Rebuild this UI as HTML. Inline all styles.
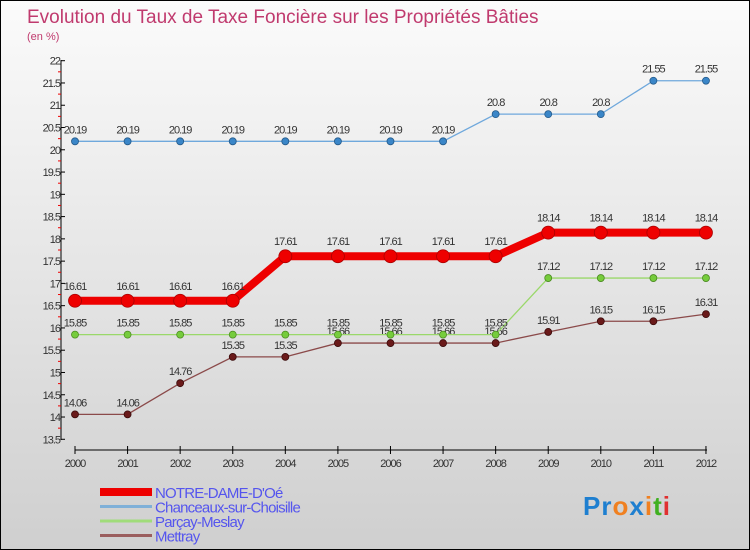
<!DOCTYPE html>
<html><head><meta charset="utf-8"><style>
body{margin:0;width:750px;height:550px;overflow:hidden;font-family:"Liberation Sans",sans-serif}
#wrap{position:absolute;left:0;top:0;width:748px;height:548px;border:1px solid #000;background:linear-gradient(#fbfbfb,#cfcfcf)}
</style></head><body>
<div id="wrap">
<svg id="chart" width="750" height="550" style="position:absolute;left:-1px;top:-1px"></svg>
</div>
<script>
const years=["2000","2001","2002","2003","2004","2005","2006","2007","2008","2009","2010","2011","2012"];
const notre=[16.61,16.61,16.61,16.61,17.61,17.61,17.61,17.61,17.61,18.14,18.14,18.14,18.14];
const chanceaux=[20.19,20.19,20.19,20.19,20.19,20.19,20.19,20.19,20.8,20.8,20.8,21.55,21.55];
const parcay=[15.85,15.85,15.85,15.85,15.85,15.85,15.85,15.85,15.85,17.12,17.12,17.12,17.12];
const mettray=[14.06,14.06,14.76,15.35,15.35,15.66,15.66,15.66,15.66,15.91,16.15,16.15,16.31];
const yTicks=["13.5","14","14.5","15","15.5","16","16.5","17","17.5","18","18.5","19","19.5","20","20.5","21","21.5","22"];
const svg=document.getElementById('chart');
const NS="http://www.w3.org/2000/svg";
function X(i){return 75+i*52.58;}
function Y(v){return 60.7+(22-v)*44.54;}
function mk(t,a,p){const e=document.createElementNS(NS,t);for(const k in a)e.setAttribute(k,a[k]);(p||svg).appendChild(e);return e;}
function txt(s,a){const e=mk('text',a);e.textContent=s;return e;}
let t=txt("Evolution du Taux de Taxe Foncière sur les Propriétés Bâties",{x:27,y:23,'font-size':19,fill:'#c03a6e'});

t=txt("(en %)",{x:27,y:40,'font-size':11,fill:'#c03a6e'});

let ax=mk('line',{x1:61,y1:60,x2:61,y2:440,stroke:'#000'});

yTicks.forEach(s=>{const v=parseFloat(s);const y=Y(v);
 mk('line',{x1:61,y1:y,x2:65,y2:y,stroke:'#000'});
 mk('line',{x1:58,y1:Y(v+0.25),x2:61,y2:Y(v+0.25),stroke:v<22?'#e00':'none'});
 const l=txt(s,{x:60,y:y+4,'font-size':11,fill:'#333','text-anchor':'end','letter-spacing':'-1'});
 });
ax=mk('line',{x1:75,y1:450,x2:707,y2:450,stroke:'#000'});

years.forEach((s,i)=>{mk('line',{x1:X(i),y1:446,x2:X(i),y2:454,stroke:'#000'});
 const l=txt(s,{x:X(i),y:467,'font-size':11,fill:'#333','text-anchor':'middle','letter-spacing':'-1'});
 });
function series(data,color,w,r,name,dot,stroke){
 const g=mk('g',{});
 mk('polyline',{points:data.map((v,i)=>X(i)+','+Y(v)).join(' '),fill:'none',stroke:color,'stroke-width':w,'stroke-linejoin':'miter'},g);
 data.forEach((v,i)=>{const c=mk('circle',{cx:X(i),cy:Y(v),r:r,fill:dot,stroke:stroke,'stroke-width':0.8},g);
  
  const l=txt(String(v),{x:X(i),y:Y(v)-8-(r>4?3:0),'font-size':11,fill:'#333','text-anchor':'middle','letter-spacing':'-1'});
  });}
series(chanceaux,'#6fa8dc',1.3,3.5,'chanceaux-series','#3a86c8','#245a8a');
series(mettray,'#8b4a4a',1.3,3.5,'mettray-series','#6a1a1a','#3a0a0a');
series(parcay,'#9ad86a',1.3,3.5,'parcay-series','#76cc3c','#4a8a20');
series(notre,'#ee0000',8,6.5,'notre-dame-series','#ee0000','#aa0000');
const legend=[["NOTRE-DAME-D'Oé",'#ee0000',8],["Chanceaux-sur-Choisille",'#7fb0d8',3],["Parçay-Meslay",'#a0dc7a',3],["Mettray",'#9a5e5e',3]];
legend.forEach((e,i)=>{const y=492+i*14.5;
 const g=mk('g',{});
 mk('line',{x1:100,y1:y,x2:152,y2:y,stroke:e[1],'stroke-width':e[2]},g);
 const l=txt(e[0],{x:155,y:y+6,'font-size':15,fill:'#5555ee','letter-spacing':'-0.8'});g.appendChild(l);});
const lg=mk('text',{x:583,y:515,'font-size':26,'font-weight':'bold','letter-spacing':'1'});

[["Pr",'#1e7fd0'],["o",'#f08020'],["x",'#1e7fd0'],["i",'#f08020'],["t",'#40b020'],["i",'#e03030']].forEach(p=>{const s=mk('tspan',{fill:p[1]},lg);s.textContent=p[0];});
</script>
</body></html>
